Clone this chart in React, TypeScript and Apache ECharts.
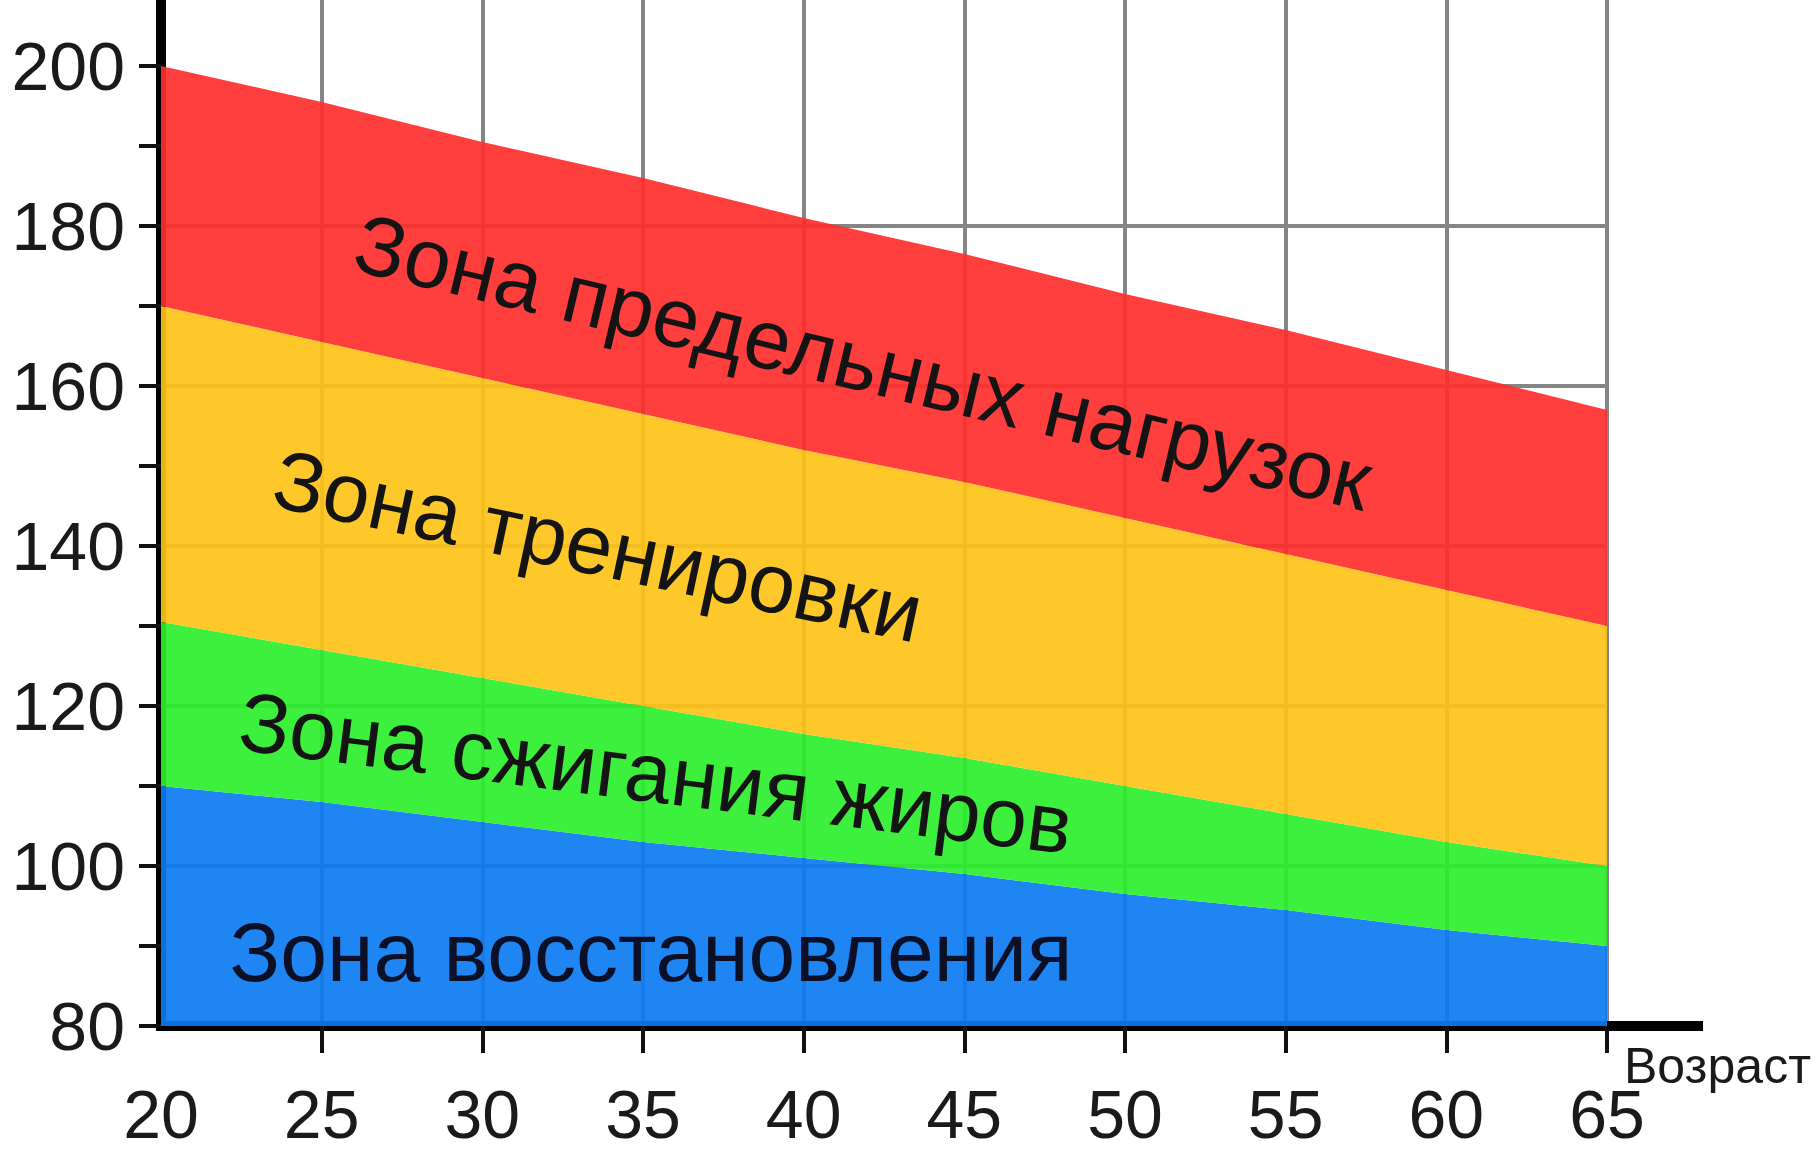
import React, { useEffect, useRef } from "react";
import * as echarts from "echarts";

// ---------- data ----------
const ages = [20, 25, 30, 35, 40, 45, 50, 55, 60, 65];
const maxLoadTop = [200, 195.5, 190.5, 186, 181, 176.5, 171.5, 167, 162, 157];
const trainingTop = [170, 165.5, 161, 156.5, 152, 148, 143.5, 139, 134.5, 130];
const fatBurnTop = [130.5, 127, 123.5, 120, 116.5, 113.5, 110, 106.5, 103, 100];
const recoveryTop = [110, 108, 105.5, 103, 101, 99, 96.5, 94.5, 92, 90];
const baseline = 80;

const yLabelTicks = [80, 100, 120, 140, 160, 180, 200];
const yAllTicks = [80, 90, 100, 110, 120, 130, 140, 150, 160, 170, 180, 190, 200];
const xTickAges = [25, 30, 35, 40, 45, 50, 55, 60, 65];

const zoneNames = [
  "Зона восстановления",
  "Зона сжигания жиров",
  "Зона тренировки",
  "Зона предельных нагрузок",
];
const xAxisName = "Возраст";

// ---------- styling / layout ----------
const zoneColors = ["rgb(11,123,241)", "rgb(45,239,45)", "rgb(255,195,24)", "rgb(255,46,46)"];
const labelAnchors = [
  { age: 35.25, bpm: 89.3, angle: 0 },
  { age: 35.4, bpm: 111.6, angle: 7.2 },
  { age: 33.6, bpm: 140.0, angle: 12.0 },
  { age: 41.85, bpm: 163.0, angle: 13.4 },
];
const FONT = '"Liberation Sans", Arial, sans-serif';
const Y_MIN = 80;
const Y_MAX = 208.25;

export default function App() {
  const ref = useRef<HTMLDivElement | null>(null);

  useEffect(() => {
    if (!ref.current) return;
    const chart = echarts.init(ref.current, null, { renderer: "svg" });

    const lowers = [ages.map(() => baseline), recoveryTop, fatBurnTop, trainingTop];
    const uppers = [recoveryTop, fatBurnTop, trainingTop, maxLoadTop];

    const series: any[] = [
      {
        type: "line",
        name: "base",
        stack: "hr",
        yAxisIndex: 0,
        data: ages.map(() => baseline),
        symbol: "none",
        lineStyle: { width: 0 },
        silent: true,
      },
    ];
    uppers.forEach((up, i) => {
      series.push({
        type: "line",
        name: zoneNames[i],
        stack: "hr",
        yAxisIndex: 0,
        data: up.map((v, k) => +(v - lowers[i][k]).toFixed(3)),
        symbol: "none",
        lineStyle: { width: 0 },
        areaStyle: { color: zoneColors[i], opacity: 0.92 },
        silent: true,
      });
    });

    chart.setOption({
      animation: false,
      backgroundColor: "#ffffff",
      grid: { left: 161, right: 209, top: 0, bottom: 126, containLabel: false },
      xAxis: {
        type: "category",
        data: ages.map(String),
        boundaryGap: false,
        axisLine: { show: true, lineStyle: { color: "#000", width: 10, cap: "square" } },
        axisTick: {
          show: true,
          length: 27,
          lineStyle: { color: "#111", width: 4 },
          interval: (idx: number) => xTickAges.includes(ages[idx]),
        },
        axisLabel: {
          show: true,
          margin: 56,
          fontSize: 68,
          lineHeight: 64,
          fontFamily: FONT,
          color: "#1a1a1a",
        },
        splitLine: {
          show: true,
          interval: (idx: number) => idx > 0,
          lineStyle: { color: "#858585", width: 4 },
        },
      },
      yAxis: [
        {
          type: "value",
          min: Y_MIN,
          max: Y_MAX,
          interval: 20,
          axisLine: { show: true, lineStyle: { color: "#000", width: 10, cap: "square" } },
          axisTick: {
            show: true,
            length: 22,
            lineStyle: { color: "#111", width: 4 },
            customValues: yLabelTicks,
          },
          axisLabel: {
            show: true,
            margin: 36,
            fontSize: 68,
            fontFamily: FONT,
            color: "#1a1a1a",
            customValues: yLabelTicks,
            formatter: (v: number) => (yLabelTicks.includes(v) ? String(v) : ""),
          },
          splitLine: {
            show: true,
            showMinLine: false,
            showMaxLine: false,
            lineStyle: { color: "#858585", width: 4 },
          },
        },
        {
          type: "value",
          position: "left",
          min: Y_MIN,
          max: Y_MAX,
          interval: 10,
          axisLine: { show: false },
          axisTick: {
            show: true,
            length: 22,
            lineStyle: { color: "#111", width: 4 },
            customValues: yAllTicks,
          },
          axisLabel: { show: false },
          splitLine: { show: false },
        },
      ],
      series,
    });

    const p0 = chart.convertToPixel({ gridIndex: 0 }, [0, baseline]) as number[];
    const p1 = chart.convertToPixel({ gridIndex: 0 }, [ages.length - 1, baseline]) as number[];
    const toPx = (age: number, bpm: number) => {
      const y = (chart.convertToPixel({ gridIndex: 0 }, [0, bpm]) as number[])[1];
      const x = p0[0] + ((age - ages[0]) / (ages[ages.length - 1] - ages[0])) * (p1[0] - p0[0]);
      return [x, y];
    };

    const graphics: any[] = [
      {
        type: "line",
        shape: { x1: p1[0], y1: p1[1], x2: p1[0] + 96, y2: p1[1] },
        style: { stroke: "#000", lineWidth: 10 },
        z: 100,
      },
      {
        type: "text",
        x: p1[0] + 17,
        y: p1[1] + 40,
        style: {
          text: xAxisName,
          fontSize: 50,
          fontFamily: FONT,
          fill: "#1a1a1a",
          align: "left",
          verticalAlign: "middle",
        },
        z: 100,
      },
    ];
    labelAnchors.forEach((a, i) => {
      const [x, y] = toPx(a.age, a.bpm);
      graphics.push({
        type: "text",
        x,
        y,
        rotation: (-a.angle * Math.PI) / 180,
        style: {
          text: zoneNames[i],
          fontSize: 84,
          fontFamily: FONT,
          fill: i === 0 ? "#0c1026" : "#141414",
          align: "center",
          verticalAlign: "middle",
        },
        z: 100,
      });
    });
    chart.setOption({ graphic: graphics });

    return () => chart.dispose();
  }, []);

  return (
    <div
      ref={ref}
      style={{ position: "fixed", left: 0, top: 0, width: 1816, height: 1152, background: "#fff" }}
    />
  );
}
